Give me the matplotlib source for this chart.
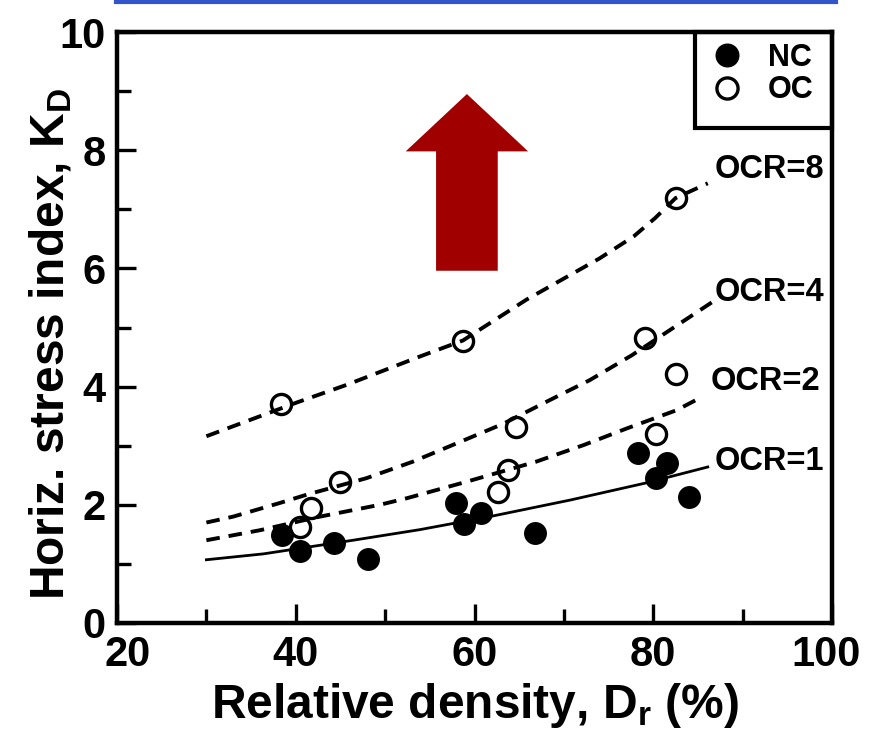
import matplotlib
matplotlib.use("Agg")
import matplotlib.pyplot as plt
from matplotlib.patches import FancyArrow, Rectangle
from matplotlib.lines import Line2D
from matplotlib.transforms import ScaledTranslation

plt.rcParams['font.family'] = ['Liberation Sans', 'DejaVu Sans']
plt.rcParams['font.weight'] = 'bold'
plt.rcParams['mathtext.fontset'] = 'custom'
plt.rcParams['mathtext.rm'] = 'Liberation Sans:bold'
plt.rcParams['mathtext.it'] = 'Liberation Sans:bold'
plt.rcParams['mathtext.bf'] = 'Liberation Sans:bold'

# ---- data ----
nc_dr = [38.5, 40.5, 44.3, 48.1, 57.9, 58.8, 60.7, 66.8, 78.3, 80.3, 81.5, 84.0]
nc_kd = [1.49, 1.22, 1.35, 1.08, 2.03, 1.68, 1.86, 1.52, 2.88, 2.45, 2.71, 2.13]

oc_dr = [38.3, 40.5, 41.7, 44.9, 58.7, 62.6, 63.7, 64.6, 79.1, 80.3, 82.5, 82.5]
oc_kd = [3.71, 1.63, 1.95, 2.39, 4.78, 2.21, 2.59, 3.31, 4.82, 3.19, 4.21, 7.19]

ocr1_x = [30.0, 36.4, 46.4, 53.9, 61.7, 70.7, 79.2, 86.1]
ocr1_y = [1.07, 1.17, 1.40, 1.58, 1.80, 2.08, 2.37, 2.64]

ocr2_x = [30.0, 36.0, 42.7, 49.4, 52.4, 59.1, 66.9, 72.2, 77.0, 82.6, 85.5]
ocr2_y = [1.40, 1.57, 1.80, 2.00, 2.11, 2.39, 2.73, 3.01, 3.29, 3.60, 3.83]

ocr4_x = [30.0, 33.0, 38.2, 41.2, 47.9, 53.1, 58.0, 63.2, 68.4, 72.9, 77.6, 82.2, 87.3]
ocr4_y = [1.70, 1.80, 2.03, 2.17, 2.45, 2.73, 3.04, 3.37, 3.77, 4.11, 4.53, 4.99, 5.50]

ocr8_x = [30.0, 40.1, 45.7, 53.9, 58.7, 65.8, 74.0, 77.8, 80.2, 82.5, 86.1]
ocr8_y = [3.16, 3.73, 4.03, 4.51, 4.78, 5.47, 6.17, 6.54, 6.85, 7.19, 7.44]

ocr_labels = ["OCR=8", "OCR=4", "OCR=2", "OCR=1"]
ocr_label_x = [86.9, 86.9, 86.4, 86.9]
ocr_label_y = [7.68, 5.60, 4.09, 2.74]

x_ticks = [20, 40, 60, 80, 100]
y_ticks = [0, 2, 4, 6, 8, 10]

fig = plt.figure(figsize=(8.73, 7.39), dpi=100)
ax = fig.add_axes([117/873, 1-623/739, 715/873, 591/739])

dash = (3.5, 2.3)
ax.plot(ocr8_x, ocr8_y, color='black', lw=2.8, dashes=dash, zorder=2)
ax.plot(ocr4_x, ocr4_y, color='black', lw=2.8, dashes=dash, zorder=2)
ax.plot(ocr2_x, ocr2_y, color='black', lw=2.8, dashes=dash, zorder=2)
ax.plot(ocr1_x, ocr1_y, color='black', lw=2.0, zorder=2)

ax.plot(nc_dr, nc_kd, 'o', ms=15.5, mfc='black', mec='black', mew=1, ls='none', label='NC', zorder=3)
ax.plot(oc_dr, oc_kd, 'o', ms=14.5, mfc='none', mec='black', mew=2.4, ls='none', label='OC', zorder=3)

for t, xx, yy in zip(ocr_labels, ocr_label_x, ocr_label_y):
    ax.text(xx, yy, t, fontsize=23.5, fontweight='bold', ha='left', va='center')

# red arrow
ax.add_patch(FancyArrow(59.15, 5.96, 0, 2.99, width=6.9, head_width=13.7,
                        head_length=0.97, length_includes_head=True,
                        color='#A00000', lw=0, zorder=4))

ax.set_xlim(20, 100)
ax.set_ylim(0, 10)
ax.set_xticks(x_ticks)
ax.set_yticks(y_ticks)
ax.set_xticks([30, 50, 70, 90], minor=True)
ax.set_yticks([1, 3, 5, 7, 9], minor=True)
ax.tick_params(which='major', direction='in', length=13.7, width=2.4, labelsize=30, pad=8)
ax.tick_params(axis='x', which='major', pad=9)
ax.tick_params(which='minor', direction='in', length=10, width=2.4)
for lab in ax.get_xticklabels() + ax.get_yticklabels():
    lab.set_fontweight('bold')
for s in ax.spines.values():
    s.set_linewidth(3.2)

# end labels of the x axis sit slightly inside, as in the reference
xt = ax.xaxis.get_major_ticks()
xt[0].label1.set_transform(xt[0].label1.get_transform() + ScaledTranslation(11/100, 0, fig.dpi_scale_trans))
xt[-1].label1.set_transform(xt[-1].label1.get_transform() + ScaledTranslation(-6/100, 0, fig.dpi_scale_trans))

ax.set_xlabel(r'Relative density, D$_\mathrm{r}$ (%)', fontsize=34.5, fontweight='bold', labelpad=4)
ax.set_ylabel(r'Horiz. stress index, K$_\mathrm{D}$', fontsize=34.5, fontweight='bold')
ax.yaxis.set_label_coords(-0.060, 0.473)

# legend box
ax.add_patch(Rectangle((0.808, 0.8376), 0.192, 0.1624, transform=ax.transAxes,
                       fill=False, lw=3.0, edgecolor='black', zorder=5, clip_on=False))
leg = ax.legend(loc='upper left', bbox_to_anchor=(0.8317, 0.9815), frameon=False,
                fontsize=22, handlelength=1.0, handletextpad=0.84, borderpad=0,
                labelspacing=0.08, borderaxespad=0, markerscale=1.05)
for txt in leg.get_texts():
    txt.set_fontweight('bold')

# blue rule at top
fig.add_artist(Line2D([116/873, 836/873], [1-1.8/739, 1-1.8/739],
                      color='#3355CC', lw=3.0, transform=fig.transFigure))

fig.savefig('out.png', dpi=100)
